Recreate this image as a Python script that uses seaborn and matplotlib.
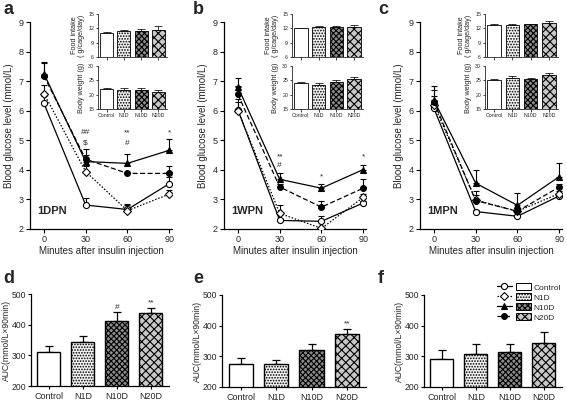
import numpy as np
import pandas as pd
import matplotlib
matplotlib.use("Agg")
import matplotlib.pyplot as plt
import seaborn as sns
from matplotlib.lines import Line2D
from matplotlib.patches import Patch
from matplotlib.legend_handler import HandlerTuple

# ---------------- data ----------------
groups = ["Control", "N1D", "N10D", "N20D"]
minutes = [0, 30, 60, 90]

# Blood glucose (mmol/L), panel a (1DPN)
glc_a_control = [6.25, 2.81, 2.66, 3.53]
glc_a_n1d = [6.58, 3.94, 2.62, 3.18]
glc_a_n10d = [7.25, 4.28, 4.22, 4.66]
glc_a_n20d = [7.18, 4.36, 3.88, 3.88]
sem_a_control = [0.25, 0.25, 0.2, 0.22]
sem_a_n1d = [0.3, 0.2, 0.2, 0.15]
sem_a_n10d = [0.4, 0.42, 0.32, 0.38]
sem_a_n20d = [0.45, 0.15, 0.05, 0.25]

# panel b (1WPN)
glc_b_control = [6.03, 2.29, 2.26, 2.88]
glc_b_n1d = [6.0, 2.53, 2.02, 3.07]
glc_b_n10d = [6.8, 3.68, 3.38, 4.01]
glc_b_n20d = [6.55, 3.42, 2.74, 3.38]
sem_b_control = [0.35, 0.05, 0.18, 0.05]
sem_b_n1d = [0.3, 0.27, 0.05, 0.1]
sem_b_n10d = [0.32, 0.2, 0.14, 0.16]
sem_b_n20d = [0.3, 0.1, 0.22, 0.3]

# panel c (1MPN)
glc_c_control = [6.08, 2.59, 2.43, 3.12]
glc_c_n1d = [6.2, 2.98, 2.6, 3.2]
glc_c_n10d = [6.35, 3.55, 2.8, 3.77]
glc_c_n20d = [6.3, 2.96, 2.6, 3.42]
sem_c_control = [0.2, 0.05, 0.05, 0.08]
sem_c_n1d = [0.3, 0.3, 0.1, 0.1]
sem_c_n10d = [0.5, 0.45, 0.42, 0.45]
sem_c_n20d = [0.4, 0.2, 0.1, 0.1]

# significance marks (minute, level, text)
marks_a = [(30, 5.25, "##"), (30, 4.9, "$"), (60, 5.25, "**"), (60, 4.9, "#"), (90, 5.25, "*")]
marks_b = [(30, 4.45, "**"), (30, 4.15, "#"), (60, 3.75, "*"), (90, 4.45, "*")]
marks_c = []

# inset: food intake (g/cage/day) and body weight (g)
food_a = [11.0, 11.4, 11.4, 11.7]
food_a_sem = [0.3, 0.15, 0.4, 0.7]
food_b = [12.0, 12.2, 12.3, 12.3]
food_b_sem = [0.05, 0.3, 0.15, 0.35]
food_c = [12.8, 12.8, 12.9, 13.2]
food_c_sem = [0.1, 0.1, 0.05, 0.35]
bw_a = [22.0, 21.7, 21.5, 21.1]
bw_a_sem = [0.2, 0.5, 0.7, 0.6]
bw_b = [24.1, 23.4, 24.5, 25.6]
bw_b_sem = [0.2, 0.7, 0.5, 0.7]
bw_c = [25.1, 25.8, 25.3, 26.9]
bw_c_sem = [0.5, 0.7, 0.5, 0.6]

# AUC (mmol/L x 90 min)
auc_d = [312, 343, 413, 437]
auc_d_sem = [20, 19, 27, 18]
auc_e = [275, 274, 321, 374]
auc_e_sem = [20, 15, 20, 15]
auc_f = [290, 307, 314, 344]
auc_f_sem = [32, 34, 27, 34]
auc_marks_d = [(2, "#"), (3, "**")]
auc_marks_e = [(3, "**")]
auc_marks_f = []

# ---------------- style ----------------
sns.set_style("ticks")
plt.rcParams["font.family"] = ["Liberation Sans", "DejaVu Sans"]
plt.rcParams["hatch.linewidth"] = 0.8
plt.rcParams["axes.linewidth"] = 0.9

W, H = 567, 404
fig = plt.figure(figsize=(W / 100, H / 100), dpi=100)


def px_axes(left, top, right, bottom):
    return fig.add_axes([left / W, 1 - bottom / H, (right - left) / W, (bottom - top) / H])


line_styles = {
    "Control": dict(ls="-", marker="o", mfc="white", ms=4.4),
    "N1D": dict(ls=(0, (1.2, 1.4)), marker="D", mfc="white", ms=3.8),
    "N10D": dict(ls="-", marker="^", mfc="black", ms=4.4),
    "N20D": dict(ls=(0, (4, 2)), marker="o", mfc="black", ms=4.2),
}
bar_styles = {
    "Control": dict(fc="white", hatch=None),
    "N1D": dict(fc="#f2f2f2", hatch="......"),
    "N10D": dict(fc="#8c8c8c", hatch="xxxxxx"),
    "N20D": dict(fc="#c8c8c8", hatch="xxxx"),
}


def style_ticks(ax, size=6.5, length=3):
    ax.tick_params(direction="out", length=length, width=0.8, labelsize=size, pad=1.5, color="black")
    sns.despine(ax=ax)
    for s in ("left", "bottom"):
        ax.spines[s].set_color("black")


def glucose_panel(ax, series, sems, marks, tag):
    for g in groups:
        st = line_styles[g]
        df = pd.DataFrame({"min": minutes, "glc": series[g]})
        ax.errorbar(minutes, series[g], yerr=[np.zeros(4), sems[g]], fmt="none",
                    ecolor="black", elinewidth=0.8, capsize=2.2, capthick=0.8, zorder=2)
        sns.lineplot(data=df, x="min", y="glc", ax=ax, color="black", lw=0.9,
                     marker=st["marker"], markersize=st["ms"], markerfacecolor=st["mfc"],
                     markeredgecolor="black", markeredgewidth=0.8, zorder=3)
        ax.lines[-1].set_linestyle(st["ls"])
    ax.set_xlim(-10, 92)
    ax.set_ylim(2, 9)
    ax.set_xticks(minutes)
    ax.set_yticks(range(2, 10))
    ax.set_xlabel("Minutes after insulin injection", fontsize=7, labelpad=1.5)
    ax.set_ylabel("Blood glucose level (mmol/L)", fontsize=7, labelpad=3)
    for x, y, t in marks:
        ax.text(x, y, t, ha="center", va="center", fontsize=6)
    ax.text(-5, 2.6, tag, fontsize=8, fontweight="bold", ha="left", va="center")
    style_ticks(ax)


def bars(ax, vals, sems, width, lw=0.9):
    df = pd.DataFrame({"group": groups, "val": vals})
    sns.barplot(data=df, x="group", y="val", ax=ax, color="white", edgecolor="black",
                linewidth=lw, width=width, errorbar=None, order=groups)
    for p, g in zip(ax.patches, groups):
        p.set_facecolor(bar_styles[g]["fc"])
        if bar_styles[g]["hatch"]:
            p.set_hatch(bar_styles[g]["hatch"])
        p.set_zorder(2)
    ax.errorbar(range(4), vals, yerr=[np.zeros(4), sems], fmt="none", ecolor="black",
                elinewidth=lw * 0.9, capsize=width * 4, capthick=lw * 0.9, zorder=1)


def inset_panels(left, right, food, food_sem, bw, bw_sem):
    a1 = px_axes(left, 14, right, 57)
    a2 = px_axes(left, 66, right, 109)
    for a in (a1, a2):
        a.set_facecolor("none")
    bars(a1, food, food_sem, 0.75, lw=0.6)
    bars(a2, bw, bw_sem, 0.75, lw=0.6)
    a1.set_ylim(6, 15)
    a1.set_yticks([6, 9, 12, 15])
    a2.set_ylim(15, 30)
    a2.set_yticks([15, 20, 25, 30])
    for a in (a1, a2):
        a.set_xlim(-0.5, 3.5)
        a.set_xlabel("")
        a.tick_params(direction="out", length=1.8, width=0.6, labelsize=3.8, pad=1)
        sns.despine(ax=a)
        for s in ("left", "bottom"):
            a.spines[s].set_linewidth(0.6)
    a1.set_xticks(range(4))
    a1.set_xticklabels([])
    a2.set_xticks(range(4))
    a2.set_xticklabels(groups)
    a1.set_ylabel("Food intake\n( g/cage/day)", fontsize=5.2, labelpad=2, linespacing=1.0)
    a2.set_ylabel("Body weight (g)", fontsize=5.2, labelpad=2)


def auc_panel(ax, vals, sems, marks):
    bars(ax, vals, sems, 0.68, lw=1.0)
    ax.set_xlim(-0.53, 3.54)
    ax.set_ylim(200, 500)
    ax.set_yticks([200, 300, 400, 500])
    ax.set_xlabel("")
    style_ticks(ax, size=6.2, length=2.5)
    ax.tick_params(axis="y", pad=0.8)
    ax.set_ylabel("AUC(mmol/L\u00d790min)", fontsize=6.2, labelpad=0.5)
    for i, t in marks:
        ax.text(i, vals[i] + sems[i] + 6, t, ha="center", va="bottom", fontsize=6)
    ax.set_xticklabels(groups, fontsize=6.5)


ser_a = dict(zip(groups, [glc_a_control, glc_a_n1d, glc_a_n10d, glc_a_n20d]))
sem_a = dict(zip(groups, [sem_a_control, sem_a_n1d, sem_a_n10d, sem_a_n20d]))
ser_b = dict(zip(groups, [glc_b_control, glc_b_n1d, glc_b_n10d, glc_b_n20d]))
sem_b = dict(zip(groups, [sem_b_control, sem_b_n1d, sem_b_n10d, sem_b_n20d]))
ser_c = dict(zip(groups, [glc_c_control, glc_c_n1d, glc_c_n10d, glc_c_n20d]))
sem_c = dict(zip(groups, [sem_c_control, sem_c_n1d, sem_c_n10d, sem_c_n20d]))

ax_a = px_axes(30, 22, 172, 229)
ax_b = px_axes(224, 22, 366, 229)
ax_c = px_axes(420, 22, 562, 229)
glucose_panel(ax_a, ser_a, sem_a, marks_a, "1DPN")
glucose_panel(ax_b, ser_b, sem_b, marks_b, "1WPN")
glucose_panel(ax_c, ser_c, sem_c, marks_c, "1MPN")

inset_panels(98, 167, food_a, food_a_sem, bw_a, bw_a_sem)
inset_panels(292, 363, food_b, food_b_sem, bw_b, bw_b_sem)
inset_panels(485, 558, food_c, food_c_sem, bw_c, bw_c_sem)

ax_d = px_axes(31, 294, 169, 386)
ax_e = px_axes(222, 295, 366, 387)
ax_f = px_axes(424, 295, 562, 387)
auc_panel(ax_d, auc_d, auc_d_sem, auc_marks_d)
auc_panel(ax_e, auc_e, auc_e_sem, auc_marks_e)
auc_panel(ax_f, auc_f, auc_f_sem, auc_marks_f)

# legend in panel f
handles = []
for g in groups:
    st = line_styles[g]
    ln = Line2D([], [], color="black", lw=0.9, ls=st["ls"], marker=st["marker"],
                markersize=st["ms"], markerfacecolor=st["mfc"], markeredgecolor="black",
                markeredgewidth=0.8)
    pt = Patch(facecolor=bar_styles[g]["fc"], edgecolor="black", linewidth=0.7,
               hatch=bar_styles[g]["hatch"])
    handles.append((ln, pt))
fig.legend(handles, groups, loc="upper left", bbox_to_anchor=(493 / W, 1 - 279 / H),
           handler_map={tuple: HandlerTuple(ndivide=None, pad=0.5)},
           frameon=False, fontsize=6, handlelength=4.0, handleheight=0.9,
           labelspacing=0.2, handletextpad=0.4, borderpad=0.0)

# panel letters
for letter, x, y in [("a", 3, 1), ("b", 193, 1), ("c", 378, 1),
                     ("d", 3, 270), ("e", 193, 270), ("f", 378, 270)]:
    fig.text(x / W, 1 - y / H, letter, fontsize=13, fontweight="bold", ha="left", va="top")

fig.savefig("out.png", dpi=100)
